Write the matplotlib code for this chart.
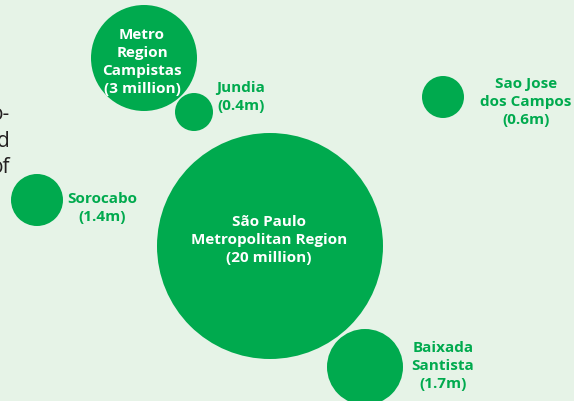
import matplotlib.pyplot as plt
from matplotlib.patches import Circle

# bubbles (pixel layout of the diagram, y downwards)
names = ["São Paulo\nMetropolitan Region\n(20 million)",
         "Metro\nRegion\nCampistas\n(3 million)",
         "Jundia\n(0.4m)",
         "Sao Jose\ndos Campos\n(0.6m)",
         "Sorocabo\n(1.4m)",
         "Baixada\nSantista\n(1.7m)"]
bx = [270, 144, 194, 443, 37, 365]
by = [246, 58, 112, 97, 200, 367]
br = [113, 53, 19, 21, 26, 38]
# label anchor and whether it sits inside the bubble
lx = [269, 142, 241, 526, 102, 443]
ly = [240, 62, 97, 102, 208, 366]
inside = [True, True, False, False, False, False]

# cut-off paragraph on the left
side_text = ["o-", "d", "of"]
side_y = [120, 147, 173]

bg = "#e6f3e7"
green = "#00aa4e"

plt.rcParams['font.family'] = ['Open Sans', 'DejaVu Sans']

fig = plt.figure(figsize=(5.74, 4.01), dpi=100, facecolor=bg)
ax = fig.add_axes([0, 0, 1, 1])
ax.set_facecolor(bg)
ax.set_xlim(0, 574)
ax.set_ylim(401, 0)
ax.axis("off")

for x, y, r in zip(bx, by, br):
    ax.add_patch(Circle((x, y), r, color=green, lw=0))

for name, x, y, ins in zip(names, lx, ly, inside):
    ax.text(x, y, name, ha="center", va="center", fontsize=11,
            fontweight="bold", color="white" if ins else green,
            linespacing=1.36)

for t, y in zip(side_text, side_y):
    ax.text(10, y, t, ha="right", va="baseline", fontsize=15, color="#231f20")

fig.savefig("out.png", dpi=100, facecolor=bg)
